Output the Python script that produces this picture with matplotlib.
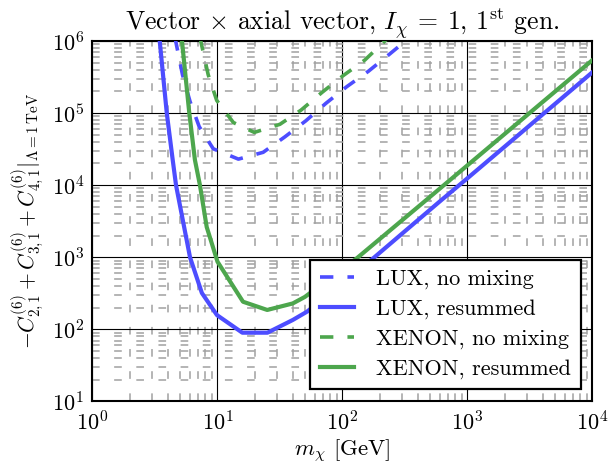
import numpy as np
import matplotlib
matplotlib.use("Agg")
import matplotlib.pyplot as plt

plt.rcParams['font.family'] = 'serif'
plt.rcParams['font.serif'] = ['cmr10']
plt.rcParams['mathtext.fontset'] = 'cm'
plt.rcParams['axes.formatter.use_mathtext'] = True
plt.rcParams['axes.unicode_minus'] = False

# ---- data ----
lux_res_m = [3.4, 3.93, 4.39, 4.66, 6.03, 7.5, 9.9, 15.8, 25.1, 40.0, 52.0, 176.0, 617.0, 1000.0, 10000.0]
lux_res_C = [1.3e6, 1e5, 2.2e4, 1e4, 1e3, 320, 158, 90, 90, 135, 176, 968, 6200, 1.25e4, 3.7e5]

xen_res_m = [5.13, 5.95, 6.6, 7.24, 8.2, 10.0, 16.0, 25.0, 40.0, 50.0, 130.0, 472.0, 10000.0]
xen_res_C = [1.26e6, 1e5, 2.24e4, 1e4, 2630, 870, 242, 186, 229, 282, 968, 6310, 5.45e5]

lux_nomix_m = [4.57, 5.25, 6.03, 7.14, 9.25, 14.7, 23.2, 34.7, 50.8, 73.8, 108, 161, 236, 330]
lux_nomix_C = [1.12e6, 3.4e5, 1.45e5, 6.5e4, 3.2e4, 2.3e4, 2.86e4, 4.7e4, 7.8e4, 1.37e5, 2.32e5, 3.8e5, 6.5e5, 1.05e6]

xen_nomix_m = [7.24, 8.43, 9.86, 13.4, 19.7, 31.6, 46.6, 68.9, 101, 151, 225]
xen_nomix_C = [1.12e6, 3.4e5, 1.5e5, 7.4e4, 5.4e4, 7.0e4, 1.1e5, 1.95e5, 3.3e5, 5.45e5, 1.05e6]

labels = ["LUX, no mixing", "LUX, resummed", "XENON, no mixing", "XENON, resummed"]
title = r"Vector $\times$ axial vector, $I_\chi\:=\:1$, $1^{\mathrm{st}}$ gen."
xlabel = r"$m_\chi$ [GeV]"
ylabel = r"$-C^{(6)}_{2,1} + C^{(6)}_{3,1} + C^{(6)}_{4,1}|_{\Lambda=1\,\mathrm{TeV}}$"

blue = (0.3, 0.3, 1.0)
green = (0.3, 0.65, 0.3)

fig = plt.figure(figsize=(6.1, 4.65), dpi=100)
ax = fig.add_axes([0.1516, 0.1366, 0.8197, 0.7752])

dash = (0, (3.7, 3.9))
ax.plot(lux_nomix_m, lux_nomix_C, color=blue, lw=2.6, ls=dash, label=labels[0], zorder=3)
ax.plot(lux_res_m, lux_res_C, color=blue, lw=3.0, ls='-', label=labels[1], zorder=3)
ax.plot(xen_nomix_m, xen_nomix_C, color=green, lw=2.6, ls=dash, label=labels[2], zorder=3)
ax.plot(xen_res_m, xen_res_C, color=green, lw=3.0, ls='-', label=labels[3], zorder=3)

ax.set_xscale('log')
ax.set_yscale('log')
ax.set_xlim(1, 1e4)
ax.set_ylim(10, 1e6)

ax.grid(which='major', color='k', lw=0.8, ls='-')
ax.grid(which='minor', color='#a0a0a0', lw=1.1, ls=(0, (5, 9.5)))
ax.set_axisbelow(True)
ax.tick_params(which='both', length=0, labelsize=16, pad=6)
for s in ax.spines.values():
    s.set_linewidth(1.5)

ax.set_title(title, fontsize=18.5, pad=7)
ax.set_xlabel(xlabel, fontsize=16.5, labelpad=3)
ax.set_ylabel(ylabel, fontsize=15.5, labelpad=4)

leg = ax.legend(loc='lower right', bbox_to_anchor=(0.978, 0.034), borderaxespad=0,
                fontsize=16, fancybox=False, framealpha=1, edgecolor='k',
                handlelength=1.55, handletextpad=1.0, labelspacing=0.45, borderpad=0.45)
leg.get_frame().set_linewidth(1.6)

fig.savefig("out.png", dpi=100)
